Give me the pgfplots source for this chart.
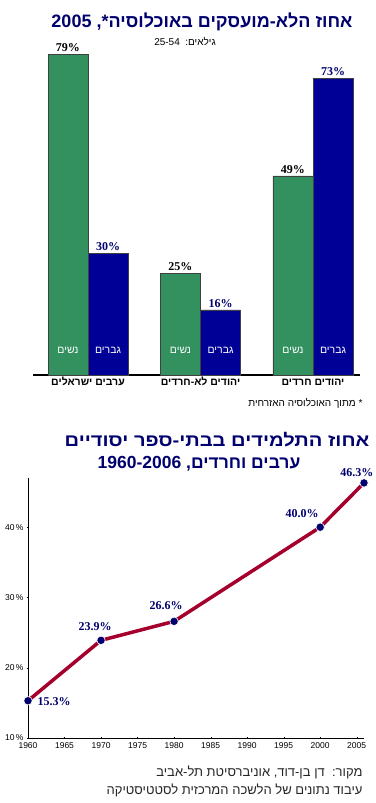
\documentclass[border=0pt]{standalone}
\usepackage{pgfplots}
\pgfplotsset{compat=1.18}
\usepackage{fontspec}
\setmainfont{Liberation Sans}
\newfontfamily\heb[Script=Hebrew]{Liberation Sans}
\newfontfamily\serifb{Liberation Serif}
\TeXXeTstate=1
\definecolor{bargreen}{RGB}{50,145,95}
\definecolor{barblue}{RGB}{0,0,150}
\definecolor{navytxt}{RGB}{0,0,110}
\definecolor{linered}{RGB}{165,0,45}
\definecolor{dotnavy}{RGB}{0,0,110}
\begin{document}
\begin{tikzpicture}[x=1pt,y=1pt]
\useasboundingbox (0,0) rectangle (375,803);
% ---- top titles
\node[font=\heb\bfseries\fontsize{18}{18}\selectfont, text=navytxt] at (202,781)
  {\beginR אחוז הלא-מועסקים באוכלוסיה\hbox{*}\hbox{,} \beginL2005\endL\endR};
\node[font=\heb\fontsize{10}{10}\selectfont] at (185,761)
  {\beginR גילאים\hbox{:}\ \ \beginL25-54\endL\endR};
% ---- bar chart
\begin{axis}[
  at={(33pt,428pt)}, anchor=south west, scale only axis,
  width=327pt, height=325pt,
  xmin=-0.489, xmax=2.418, ymin=0, ymax=80,
  axis x line*=bottom, axis y line=none,
  x axis line style={line width=1.6pt,-},
  xtick={0,1,2},
  xticklabels={{\beginR ערבים ישראלים\endR},{\beginR יהודים לא-חרדים\endR},{\beginR יהודים חרדים\endR}},
  xticklabel style={font=\heb\bfseries\fontsize{10.5}{10.5}\selectfont, text height=8pt, text depth=2pt, anchor=north, yshift=1pt},
  major tick length=0pt, ytick=\empty,
  ybar, bar width=0.355, clip=false,
  /pgf/number format/assume math mode=true,
  nodes near coords={\pgfmathprintnumber{\pgfplotspointmeta}\%},
]
\addplot[fill=bargreen, draw=black!75, line width=0.6pt, bar shift=-0.178,
  nodes near coords style={font=\serifb\bfseries\fontsize{12}{12}\selectfont, text=black, inner sep=2pt}]
  coordinates {(0,79) (1,25) (2,49)};
\addplot[fill=barblue, draw=black!75, line width=0.6pt, bar shift=0.178,
  nodes near coords style={font=\serifb\bfseries\fontsize{12}{12}\selectfont, text=navytxt, inner sep=2pt}]
  coordinates {(0,30) (1,16) (2,73)};
\tikzset{inlab/.style={font=\heb\fontsize{10.5}{10.5}\selectfont, text=white}}
\node[inlab] at (axis cs:-0.178,6.1) {נשים};
\node[inlab] at (axis cs:0.178,6.1) {גברים};
\node[inlab] at (axis cs:0.822,6.1) {נשים};
\node[inlab] at (axis cs:1.178,6.1) {גברים};
\node[inlab] at (axis cs:1.822,6.1) {נשים};
\node[inlab] at (axis cs:2.178,6.1) {גברים};
\end{axis}
\node[font=\heb\fontsize{10}{10}\selectfont, anchor=east] at (366,400)
  {\beginR\hbox{*} מתוך האוכלוסיה האזרחית\endR};
% ---- bottom titles
\node[font=\heb\bfseries\fontsize{17.5}{17.5}\selectfont, text=navytxt, xscale=1.15] at (217,363)
  {\beginR אחוז התלמידים בבתי-ספר יסודיים\endR};
\node[font=\heb\bfseries\fontsize{17.5}{17.5}\selectfont, text=navytxt] at (199,339)
  {\beginR ערבים וחרדים\hbox{,} \beginL1960-2006\endL\endR};
% ---- line chart
\begin{axis}[
  at={(28pt,65pt)}, anchor=south west, scale only axis,
  width=336pt, height=260pt,
  xmin=1960, xmax=2006, ymin=10, ymax=47,
  axis lines=left, axis line style={-, line width=0.8pt},
  xtick={1960,1965,...,2005}, ytick={10,20,30,40},
  xticklabel style={/pgf/number format/1000 sep={}},
  yticklabel={\pgfmathprintnumber{\tick}\,\%},
  /pgf/number format/assume math mode=true,
  ticklabel style={font=\fontsize{8.5}{8.5}\selectfont},
  major tick length=2pt, tick style={black},
  clip=false,
]
\addplot[color=linered, line width=3.5pt, mark=*, mark size=4.2pt,
  mark options={fill=dotnavy, draw=white, line width=0.6pt}]
  coordinates {(1960,15.3) (1970,23.9) (1980,26.6) (2000,40.0) (2006,46.3)};
\tikzset{lab/.style={font=\serifb\bfseries\fontsize{12}{12}\selectfont, text=navytxt}}
\node[lab, anchor=west] at (axis cs:1960,15.3) [xshift=6pt, yshift=-1pt] {15.3\%};
\node[lab] at (axis cs:1970,23.9) [xshift=-6pt, yshift=14pt] {23.9\%};
\node[lab] at (axis cs:1980,26.6) [xshift=-8pt, yshift=16pt] {26.6\%};
\node[lab] at (axis cs:2000,40.0) [xshift=-18pt, yshift=14pt] {40.0\%};
\node[lab] at (axis cs:2006,46.3) [xshift=-7pt, yshift=10pt] {46.3\%};
\end{axis}
% ---- source
\node[font=\heb\fontsize{13}{13}\selectfont, text=black!85, anchor=east] at (366,31)
  {\beginR מקור\hbox{:}\ \ דן בן-דוד\hbox{,} אוניברסיטת תל-אביב\endR};
\node[font=\heb\fontsize{13}{13}\selectfont, text=black!85, anchor=east] at (366,13)
  {\beginR עיבוד נתונים של הלשכה המרכזית לסטטיסטיקה\endR};
\end{tikzpicture}
\end{document}
